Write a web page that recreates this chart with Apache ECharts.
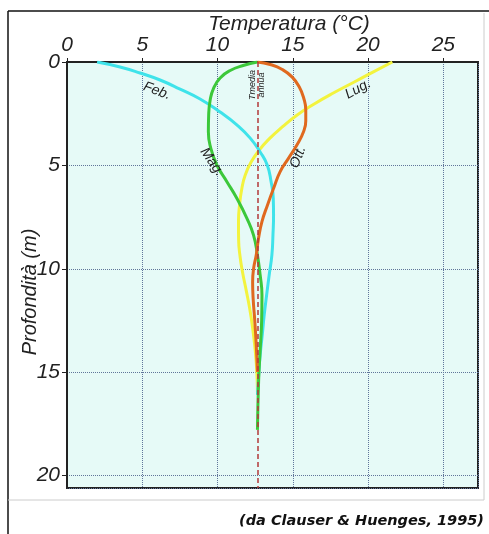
<!DOCTYPE html>
<html>
<head>
<meta charset="utf-8">
<script src="https://cdn.jsdelivr.net/npm/echarts@6/dist/echarts.min.js"></script>
<style>
  html, body { margin: 0; padding: 0; background: #fff; }
  #chart { width: 489px; height: 534px; }
</style>
</head>
<body>
<div id="chart"></div>
<script>
// temperatura (°C), profondità (m)
var feb = [[2.0, 0], [3.52, 0.24], [4.85, 0.53], [6.18, 0.87], [7.51, 1.31], [8.84, 1.79], [10.17, 2.42], [11.3, 3.05], [12.17, 3.68], [12.83, 4.35], [13.3, 4.98], [13.56, 5.8], [13.7, 6.58], [13.72, 7.4], [13.68, 8.37], [13.61, 9.33], [13.43, 10.3], [13.26, 11.27], [13.1, 12.23], [12.97, 13.2], [12.83, 14.17], [12.73, 15.14], [12.65, 16.1]]
var mag = [[12.65, 0], [11.7, 0.17], [10.84, 0.41], [10.17, 0.77], [9.74, 1.26], [9.51, 1.84], [9.41, 2.56], [9.39, 3.37], [9.55, 4.17], [9.95, 4.98], [10.62, 5.79], [11.28, 6.59], [11.95, 7.56], [12.39, 8.37], [12.65, 9.33], [12.83, 10.3], [12.95, 11.27], [12.93, 12.48], [12.83, 13.93], [12.73, 15.38], [12.65, 17.79]]
var lug = [[21.61, 0], [20.35, 0.48], [19.02, 0.99], [17.69, 1.5], [16.42, 2.03], [15.29, 2.56], [14.3, 3.14], [13.43, 3.72], [12.77, 4.26], [12.23, 4.84], [11.84, 5.46], [11.62, 6.09], [11.46, 6.91], [11.39, 7.74], [11.4, 8.61], [11.5, 9.43], [11.67, 10.2], [11.9, 11.03], [12.13, 11.9], [12.33, 12.86], [12.5, 13.93], [12.61, 14.99], [12.65, 15.96]]
var ott = [[12.65, 0], [13.5, 0.12], [14.3, 0.36], [14.96, 0.73], [15.43, 1.21], [15.72, 1.74], [15.86, 2.32], [15.86, 2.85], [15.71, 3.37], [15.27, 4.01], [14.71, 4.66], [14.16, 5.3], [13.72, 6.11], [13.32, 6.91], [12.95, 7.72], [12.72, 8.53], [12.57, 9.33], [12.4, 9.96], [12.33, 10.64], [12.37, 11.51], [12.47, 12.48], [12.57, 13.68], [12.65, 14.99]]
var tMedia = 12.65
var xTicks = [0, 5, 10, 15, 20, 25]
var yTicks = [0, 5, 10, 15, 20]

var font = 'Liberation Sans, Arial, sans-serif'
var chart = echarts.init(document.getElementById('chart'))

function curve(name, data, color) {
  return {
    name: name, type: 'line', data: data, smooth: 0.5,
    symbol: 'none', lineStyle: { color: color, width: 3 }
  }
}

function note(text, x, y, rot, size) {
  return {
    type: 'text', x: x, y: y, rotation: rot, z: 100,
    style: { text: text, font: 'italic ' + (size || 14) + 'px ' + font, fill: '#222', align: 'center', verticalAlign: 'middle' }
  }
}

var series = [
  curve('Lug.', lug, '#f3f33e'),
  curve('Feb.', feb, '#3fe3ea'),
  curve('Mag.', mag, '#3cc83a'),
  curve('Ott.', ott, '#e0691f'),
  {
    type: 'line', data: [], markLine: {
      symbol: 'none', silent: true, label: { show: false },
      lineStyle: { color: '#b2383a', type: [5, 3], width: 1.5 },
      data: [{ xAxis: tMedia }]
    }
  }
]

chart.setOption({
  animation: false,
  grid: {
    left: 67, top: 62, right: 11, bottom: 46,
    show: true, backgroundColor: '#e6faf7', borderColor: '#222', borderWidth: 2
  },
  xAxis: {
    type: 'value', position: 'top', min: 0, max: 27.3, interval: 5,
    axisLine: { show: true, lineStyle: { color: '#222', width: 2 } },
    axisTick: { show: true, length: 4, lineStyle: { color: '#222' } },
    axisLabel: {
      margin: 6, fontSize: 21, fontStyle: 'italic', fontFamily: font, color: '#222',
      showMaxLabel: false,
      formatter: function (v) { return xTicks.indexOf(v) >= 0 ? v : '' }
    },
    splitLine: { show: true, lineStyle: { color: '#60759a', type: 'dotted', width: 1 } }
  },
  yAxis: {
    type: 'value', inverse: true, min: 0, max: 20.6, interval: 5,
    axisLine: { show: true, lineStyle: { color: '#222', width: 2 } },
    axisTick: { show: true, length: 5, lineStyle: { color: '#222' } },
    axisLabel: {
      margin: 7, fontSize: 21, fontStyle: 'italic', fontFamily: font, color: '#222',
      showMaxLabel: false,
      formatter: function (v) { return yTicks.indexOf(v) >= 0 ? v : '' }
    },
    splitLine: { show: true, lineStyle: { color: '#60759a', type: 'dotted', width: 1 } }
  },
  series: series,
  graphic: [
    { type: 'line', shape: { x1: 8, y1: 11, x2: 489, y2: 11 }, style: { stroke: '#111', lineWidth: 1.5 } },
    { type: 'line', shape: { x1: 8, y1: 11, x2: 8, y2: 534 }, style: { stroke: '#111', lineWidth: 1.5 } },
    { type: 'line', shape: { x1: 484, y1: 13, x2: 484, y2: 500 }, style: { stroke: '#ccc', lineWidth: 1 } },
    { type: 'line', shape: { x1: 8, y1: 500, x2: 484, y2: 500 }, style: { stroke: '#ccc', lineWidth: 1 } },
    note('Temperatura (°C)', 289, 24, 0, 21),
    note('Profondità (m)', 30, 292, Math.PI / 2, 20),
    note('Feb.', 157, 91, -0.35),
    note('Lug.', 358, 89, 0.5),
    note('Mag.', 212, 162, -0.96),
    note('Ott.', 298, 157, 1.2),
    note('Tmedia\nannua', 257, 85, Math.PI / 2, 9),
    {
      type: 'text', x: 484, y: 521, z: 100,
      style: { text: '(da Clauser & Huenges, 1995)', font: 'italic bold 14.5px DejaVu Sans, sans-serif', fill: '#111', align: 'right', verticalAlign: 'middle' }
    }
  ]
})
</script>
</body>
</html>
